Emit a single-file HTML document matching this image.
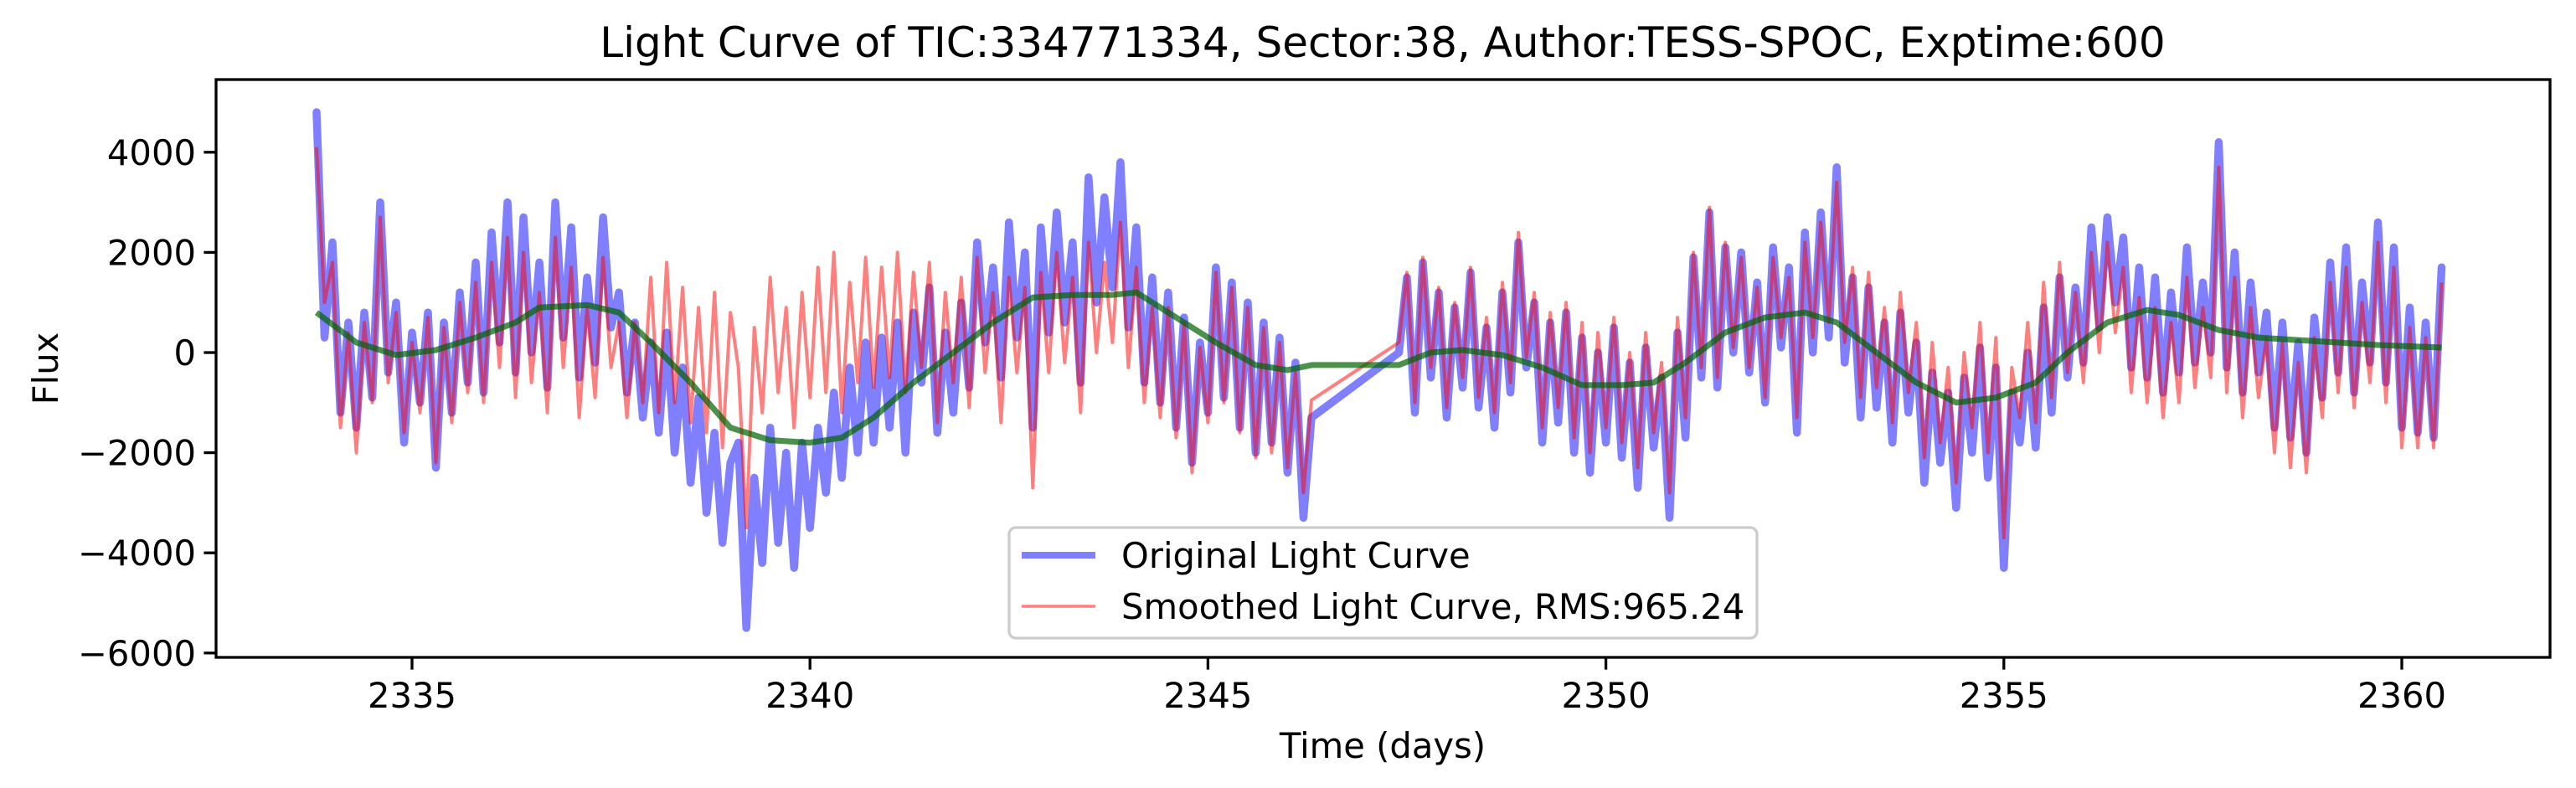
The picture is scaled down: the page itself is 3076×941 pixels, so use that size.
<!DOCTYPE html>
<html><head><meta charset="utf-8">
<style>
html,body{margin:0;padding:0;background:#fff;}
svg{display:block;font-family:"DejaVu Sans","Liberation Sans",sans-serif;}
</style></head>
<body>
<svg id="chart" width="3076" height="941" viewBox="0 0 3076 941" xmlns="http://www.w3.org/2000/svg">
<rect width="3076" height="941" fill="#fff"/>
<text x="1651" y="68" font-size="50" text-anchor="middle">Light Curve of TIC:334771334, Sector:38, Author:TESS-SPOC, Exptime:600</text>
<g id="plot"></g>
<text x="1651" y="905" font-size="41.7" text-anchor="middle">Time (days)</text>
<text x="0" y="0" font-size="41.7" text-anchor="middle" transform="translate(69,440) rotate(-90)">Flux</text>
</svg>
<script>
const xTicks = [2335, 2340, 2345, 2350, 2355, 2360];
const yTicks = [-6000, -4000, -2000, 0, 2000, 4000];
const yTickLabels = ["\u22126000", "\u22124000", "\u22122000", "0", "2000", "4000"];
const seg1Start = 2333.8;
const seg2Start = 2347.4;
const cadence = 0.1;
const blueSeg1 = [4800,300,2200,-1200,600,-1500,800,-900,3000,-400,
1000,-1800,400,-1000,800,-2300,600,-1200,1200,-600,
1800,-800,2400,200,3000,-400,2700,0,1800,-700,
3000,300,2500,-500,1500,-200,2700,500,1200,-800,
600,-1300,200,-1600,400,-2000,-300,-2600,-900,-3200,
-1600,-3800,-2200,-1800,-5500,-2500,-4200,-1500,-3800,-2000,
-4300,-1800,-3500,-1500,-2800,-800,-2500,-300,-2000,200,
-1800,300,-1500,600,-2000,800,-600,1300,-1600,400,
-1200,1000,-700,2200,200,1700,-500,2600,300,2000,
-1500,2500,400,2800,600,2200,-600,3500,1000,3100,
1300,3800,500,2500,-600,1500,-1000,1200,-1500,700,
-2200,200,-1200,1700,-900,1400,-1500,1000,-2000,600,
-1800,300,-2400,-200,-3300,-1300];
const blueSeg2 = [0,1500,-1200,1800,-500,1200,-1300,900,-700,1600,
-1100,500,-1500,1200,-800,2200,-300,1000,-1800,600,
-1400,800,-2000,300,-2400,0,-1800,500,-2100,-200,
-2700,100,-1900,-500,-3300,400,-1700,1900,-500,2800,
-700,2100,0,2000,-400,1400,-1000,2100,100,1700,
-1600,2400,0,2800,300,3700,-200,1500,-1300,1300,
-1100,600,-1800,800,-1200,200,-2600,-400,-2200,-800,
-3100,-500,-2000,100,-2500,-300,-4300,-800,-1800,0,
-1900,900,-1200,1500,-500,1300,-200,2500,500,2700,
1000,2300,-300,1700,-500,1500,-800,1200,-400,2100,
-200,1400,0,4200,-300,2000,-800,1400,-400,800,
-1500,600,-1700,200,-2000,700,-900,1800,-400,2100,
-800,1400,-200,2600,-600,2100,-1500,900,-1600,600,
-1700,1700];
const redSeg1 = [4100,1000,1800,-1500,400,-2000,600,-1000,2700,-600,
800,-1600,200,-1200,700,-2200,500,-1400,1000,-800,
1400,-1000,1800,-300,2300,-900,2000,-600,1200,-1200,
2300,-300,1700,-1300,900,-900,1900,-300,600,-1300,
600,-1000,1500,-1200,1800,-1000,1300,-1400,900,-1600,
1200,-1900,800,-300,-3500,500,-1200,1500,-800,900,
-1500,1200,-900,1700,-800,2000,-1200,1400,-600,1900,
-700,1700,-500,2000,-800,1600,-300,1800,-1400,1200,
-600,1500,-1100,1900,-400,1200,-1400,1500,-400,1300,
-2700,1600,-400,2000,-200,1500,-1200,2200,0,1800,
200,2600,-300,1700,-1000,900,-1300,900,-1700,600,
-2400,100,-1400,1600,-1000,1300,-1600,900,-2100,500,
-2000,200,-2300,-400,-2800,-950];
const redSeg2 = [200,1600,-1000,1900,-300,1300,-1100,1000,-500,1700,
-900,700,-1200,1400,-600,2400,-100,1200,-1500,800,
-1100,1000,-1700,600,-2000,400,-1500,700,-1800,0,
-2300,400,-1600,-200,-2800,700,-1300,2000,-300,2900,
-500,2200,100,1900,-300,1300,-900,1900,300,1500,
-1300,2200,300,2600,600,3400,200,1700,-900,1600,
-700,900,-1400,1200,-800,600,-2100,200,-1800,-300,
-2600,0,-1500,600,-2000,300,-3700,-300,-1300,600,
-1400,1400,-900,1800,-400,1200,-600,2000,0,2200,
400,1700,-800,1100,-1000,900,-1300,600,-1000,1500,
-700,900,-500,3700,-800,1500,-1300,900,-900,300,
-2000,200,-2300,-200,-2400,300,-1300,1400,-800,1700,
-1100,1000,-600,2200,-1000,1700,-1900,500,-1900,300,
-1900,1400];
const trendTimes = [2333.8,2334.3,2334.8,2335.3,2335.8,2336.3,2336.6,2337.2,2337.6,2338.0,2338.5,2339.0,2339.5,2340.0,2340.4,2340.8,2341.3,2341.8,2342.3,2342.8,2343.3,2343.8,2344.1,2344.6,2345.1,2345.6,2346.0,2346.3,2347.4,2347.8,2348.2,2348.7,2349.2,2349.7,2350.2,2350.6,2351.0,2351.5,2352.0,2352.5,2352.9,2353.4,2353.9,2354.4,2354.9,2355.4,2355.8,2356.3,2356.8,2357.2,2357.7,2358.2,2358.7,2359.2,2359.7,2360.5];
const trendValues = [800,200,-50,50,300,600,900,950,800,200,-600,-1500,-1750,-1800,-1700,-1300,-600,0,600,1100,1150,1150,1200,700,200,-250,-350,-250,-250,0,50,-50,-300,-650,-650,-600,-200,400,700,800,600,0,-600,-1000,-900,-600,0,600,850,750,450,300,250,200,150,100];

const NS = "http://www.w3.org/2000/svg";
const plot = document.getElementById('plot');
const L = 258, R = 3045, T = 95, B = 785;
function X(t){ return 492 + (t - 2335) * 95.04; }
function Y(v){ return 421 - v * 0.0598; }
function mk(tag, attrs){ const e = document.createElementNS(NS, tag); for (const k in attrs) e.setAttribute(k, attrs[k]); return e; }

function seriesPts(start, vals){ return vals.map((v,i)=>X(start + i*cadence).toFixed(1)+','+Y(v).toFixed(1)); }
const bluePts = seriesPts(seg1Start, blueSeg1).concat(seriesPts(seg2Start, blueSeg2));
const redPts = seriesPts(seg1Start, redSeg1).concat(seriesPts(seg2Start, redSeg2));

const blue = mk('polyline', {points: bluePts.join(' '), fill:'none', stroke:'#0000ff', 'stroke-opacity':'0.5', 'stroke-width':'9.5', 'stroke-linejoin':'round', 'stroke-linecap':'round'});


plot.appendChild(blue);

const red = mk('polyline', {points: redPts.join(' '), fill:'none', stroke:'#ff0000', 'stroke-opacity':'0.5', 'stroke-width':'4', 'stroke-linejoin':'round'});


plot.appendChild(red);

const green = mk('polyline', {points: trendTimes.map((t,i)=>X(t).toFixed(1)+','+Y(trendValues[i]).toFixed(1)).join(' '), fill:'none', stroke:'#006400', 'stroke-opacity':'0.7', 'stroke-width':'7', 'stroke-linejoin':'round'});


plot.appendChild(green);

const frame = mk('rect', {x:L, y:T, width:R-L, height:B-T, fill:'none', stroke:'#000', 'stroke-width':'3.3'});


plot.appendChild(frame);

xTicks.forEach(t=>{
  const tk = mk('line', {x1:X(t), x2:X(t), y1:B, y2:B+14.6, stroke:'#000', 'stroke-width':'3.3'});
  
  
  plot.appendChild(tk);
  const lb = mk('text', {x:X(t), y:845, 'font-size':'41.7', 'text-anchor':'middle'});
  lb.textContent = String(t);
  
  
  plot.appendChild(lb);
});
yTicks.forEach((v,i)=>{
  const tk = mk('line', {x1:L-14.6, x2:L, y1:Y(v), y2:Y(v), stroke:'#000', 'stroke-width':'3.3'});
  
  
  plot.appendChild(tk);
  const lb = mk('text', {x:L-24, y:Y(v)+15, 'font-size':'41.7', 'text-anchor':'end'});
  lb.textContent = yTickLabels[i];
  
  
  plot.appendChild(lb);
});

const lg = mk('g', {});


plot.appendChild(lg);
const box = mk('rect', {x:1205, y:630, width:893, height:132, rx:8, fill:'#fff', 'fill-opacity':'0.8', stroke:'#cccccc', 'stroke-width':'3.3'});


lg.appendChild(box);
const l1 = mk('line', {x1:1220, x2:1308, y1:663, y2:663, stroke:'#0000ff', 'stroke-opacity':'0.5', 'stroke-width':'8'});


lg.appendChild(l1);
const t1 = mk('text', {x:1339, y:678, 'font-size':'41.7'});
t1.textContent = 'Original Light Curve';


lg.appendChild(t1);
const l2 = mk('line', {x1:1220, x2:1308, y1:724, y2:724, stroke:'#ff0000', 'stroke-opacity':'0.5', 'stroke-width':'3.5'});


lg.appendChild(l2);
const t2 = mk('text', {x:1339, y:739, 'font-size':'41.7'});
t2.textContent = 'Smoothed Light Curve, RMS:965.24';


lg.appendChild(t2);
</script>
</body></html>
